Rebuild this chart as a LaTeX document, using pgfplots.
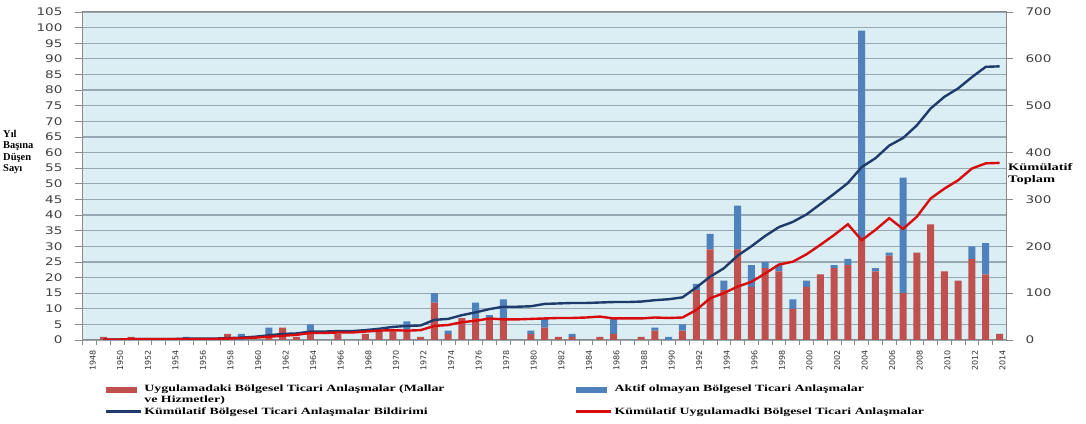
\documentclass[border=0pt]{standalone}
\usepackage{fontspec}
\setmainfont{Liberation Serif}
\newfontfamily\tickfont[FakeStretch=1.3]{DejaVu Sans}
\newfontfamily\xtickfont{DejaVu Sans}
\newfontfamily\legfont[FakeStretch=1.45]{Liberation Serif}
\usepackage{pgfplots}
\pgfplotsset{compat=1.18}
\usepackage{pgfplotstable}
\definecolor{bgblue}{HTML}{DAEEF3}
\definecolor{gridc}{HTML}{98A8B3}
\definecolor{barred}{HTML}{C0504D}
\definecolor{barblue}{HTML}{4F81BD}
\definecolor{lineblue}{HTML}{1F3B6B}
\definecolor{linered}{HTML}{D80C0C}
\definecolor{axisc}{HTML}{8A8A8A}

\pgfplotstableread{
year red blue cumall cumforce
1948 0 0 nan nan
1949 1 0 1 1
1950 0 0 1 1
1951 1 0 2 2
1952 0 0 2 2
1953 0 0 2 2
1954 0 0 2 2
1955 0 1 3 2
1956 0 0 3 2
1957 0 0 3 2
1958 2 0 4 3
1959 0 2 5 4
1960 0 0 7 5
1961 2 2 10 7
1962 4 0 13 9
1963 1 0 14 11
1964 3 2 18 15
1965 0 0 18 15
1966 2 0 19 16
1967 0 0 19 16
1968 2 0 21 18
1969 3 0 24 20
1970 3 0 28 21
1971 3 3 30 20
1972 1 0 31 21
1973 12 3 43 30
1974 2 1 45 32
1975 7 0 53 38
1976 7 5 59 41
1977 7 1 66 46
1978 7 6 71 44
1979 0 0 71 44
1980 2 1 72 45
1981 4 3 77 46
1982 1 0 78 47
1983 1 1 79 47
1984 0 0 79 48
1985 1 0 80 50
1986 2 5 81 46
1987 0 0 81 46
1988 1 0 82 46
1989 3 1 85 48
1990 0 1 87 47
1991 3 2 91 48
1992 16 2 112 64
1993 29 5 135 89
1994 16 3 153 100
1995 29 14 180 114
1996 17 7 200 124
1997 23 2 222 142
1998 22 2 241 161
1999 10 3 252 167
2000 17 2 268 183
2001 21 0 290 203
2002 23 1 312 224
2003 24 2 335 247
2004 32 67 369 213
2005 22 1 388 235
2006 27 1 415 260
2007 15 37 431 237
2008 28 0 458 263
2009 37 0 494 302
2010 22 0 519 323
2011 19 0 537 341
2012 26 4 561 366
2013 21 10 583 377
2014 2 0 584 378
}\data

\begin{document}
\begin{tikzpicture}
\path[use as bounding box] (0,0) rectangle (1086bp,424bp);
\begin{axis}[
  at={(82bp,84bp)}, anchor=south west,
  scale only axis, width=924bp, height=328bp,
  xmin=1947.44, xmax=2014.47, ymin=0, ymax=105,
  axis background/.style={fill=bgblue},
  ybar stacked, bar width=7bp,
  ytick={0,5,...,105},
  ymajorgrids, major grid style={gridc, line width=1.2bp},
  xtick={1948,1950,...,2014},
  minor xtick={1947.5,1948.5,...,2014.5},
  xtick pos=bottom, ytick pos=left,
  tick align=outside,
  major tick length=7bp, minor tick length=5bp,
  major x tick style={draw=none},
  minor x tick style={axisc, line width=0.8bp},
  y tick style={axisc, line width=0.8bp},
  axis line style={axisc, line width=1bp},
  /pgf/number format/assume math mode=true,
  xticklabel style={rotate=90, anchor=east, font=\xtickfont\fontsize{8}{9}\selectfont, text=black!80, /pgf/number format/1000 sep={}, yshift=-3bp},
  yticklabel style={font=\tickfont\fontsize{10.5}{12}\selectfont, text=black!75, xshift=-9bp},
]
\addplot[fill=barred, draw=none] table[x=year,y=red]{\data};
\addplot[fill=barblue, draw=none] table[x=year,y=blue]{\data};
\end{axis}
\begin{axis}[
  at={(82bp,84bp)}, anchor=south west,
  scale only axis, width=924bp, height=328bp,
  xmin=1947.44, xmax=2014.47, ymin=0, ymax=700,
  hide x axis,
  ytick={0,100,...,700},
  ytick pos=right, yticklabel pos=right,
  tick align=outside, major tick length=7bp,
  y tick style={axisc, line width=0.8bp},
  axis line style={axisc, line width=1bp},
  /pgf/number format/assume math mode=true,
  yticklabel style={font=\tickfont\fontsize{10.5}{12}\selectfont, text=black!75, xshift=9bp},
  legend columns=2,
  legend cell align=left,
  legend style={at={(axis description cs:0.026,-0.134)}, anchor=north west,
    draw=none, fill=none, inner sep=0pt, row sep=12bp, column sep=0pt,
    font=\legfont\bfseries\fontsize{9.6}{10.5}\selectfont,
    nodes={inner xsep=2bp, inner ysep=1bp},
    /tikz/every even column/.append style={column sep=10bp}},
]
\addlegendimage{legend image code/.code={\path[draw=none,fill=none] (0bp,-2.5bp) rectangle (36bp,2.5bp); \fill[barred] (0bp,-2.5bp) rectangle (30bp,2.5bp);}}
\addlegendentry{\raisebox{0pt}[\height][0pt]{\parbox[t]{420bp}{Uygulamadaki Bölgesel Ticari Anlaşmalar (Mallar\\ve Hizmetler)}}}
\addlegendimage{legend image code/.code={\path[draw=none,fill=none] (0bp,-2.5bp) rectangle (36bp,2.5bp); \fill[barblue] (0bp,-2.5bp) rectangle (30bp,2.5bp);}}
\addlegendentry{Aktif olmayan Bölgesel Ticari Anlaşmalar}
\addlegendimage{legend image code/.code={\path[draw=none,fill=none] (0bp,-2.5bp) rectangle (36bp,2.5bp); \fill[lineblue] (0bp,-0.9bp) rectangle (34bp,0.9bp);}}
\addlegendentry{\makebox[420bp][l]{Kümülatif Bölgesel Ticari Anlaşmalar Bildirimi}}
\addlegendimage{legend image code/.code={\path[draw=none,fill=none] (0bp,-2.5bp) rectangle (36bp,2.5bp); \fill[linered] (0bp,-0.9bp) rectangle (34bp,0.9bp);}}
\addlegendentry{Kümülatif Uygulamadki Bölgesel Ticari Anlaşmalar}
\addplot[lineblue, line width=2.4bp, forget plot] table[x=year,y=cumall]{\data};
\addplot[linered, line width=2.4bp, forget plot] table[x=year,y=cumforce]{\data};
\end{axis}
\node[anchor=north west, align=left, inner sep=0pt, font=\bfseries\fontsize{10.5}{11.5}\selectfont] at (3bp,294bp) {Yıl\\Başına\\Düşen\\Sayı};
\node[anchor=north west, align=left, inner sep=0pt, font=\legfont\bfseries\fontsize{10}{12.5}\selectfont] at (1008bp,261bp) {Kümülatif\\Toplam};
\end{tikzpicture}
\end{document}
